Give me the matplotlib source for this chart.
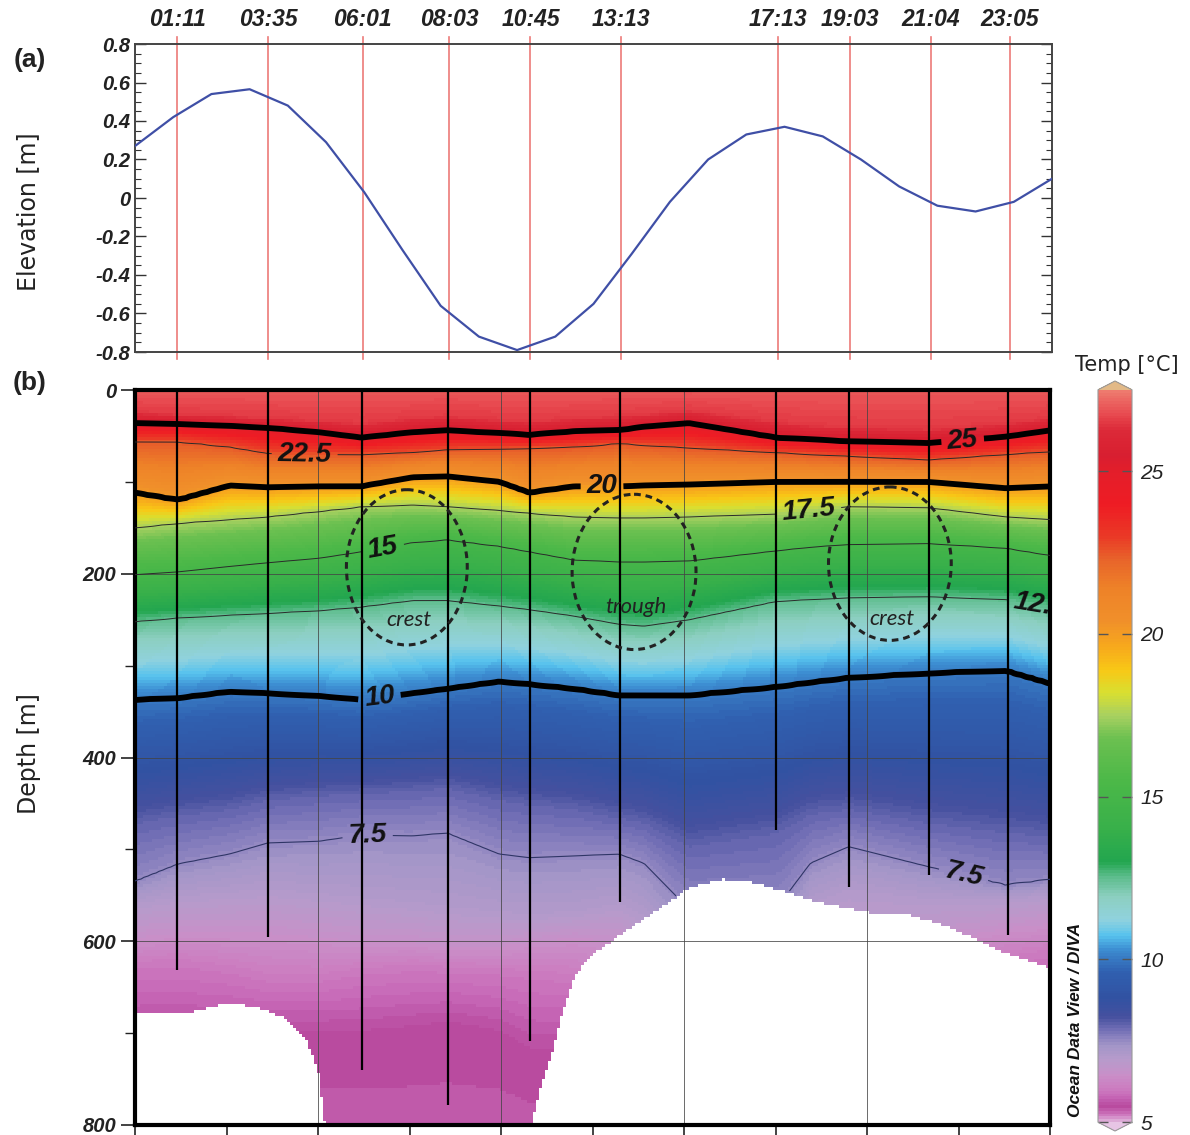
import numpy as np
import matplotlib
matplotlib.use('Agg')
import matplotlib.pyplot as plt
from matplotlib.colors import LinearSegmentedColormap, Normalize
from matplotlib.patches import Ellipse
from matplotlib.ticker import MultipleLocator, FuncFormatter

plt.rcParams['font.family'] = ['Liberation Sans', 'DejaVu Sans']

# ---- (a) sea level elevation, hourly
hours = np.arange(0, 25)
elevation = [0.27, 0.42, 0.54, 0.565, 0.48, 0.29, 0.03, -0.27, -0.56, -0.72,
             -0.79, -0.72, -0.55, -0.29, -0.02, 0.20, 0.33, 0.37, 0.32, 0.20,
             0.06, -0.04, -0.07, -0.02, 0.10]

# ---- CTD casts (time label, position on the time axis, max depth)
cast_time = ['01:11', '03:35', '06:01', '08:03', '10:45',
             '13:13', '17:13', '19:03', '21:04', '23:05']
cast_x = [1.11, 3.49, 5.96, 8.22, 10.35, 12.71, 16.82, 18.72, 20.83, 22.89]
cast_depth = [631, 595, 740, 778, 709, 557, 479, 541, 528, 593]

# ---- (b) isotherm depths [m] read at section stations
station_x = [0.0, 1.13, 2.49, 3.48, 4.84, 5.94, 7.28, 8.19, 9.55, 10.34,
             11.52, 12.70, 13.35, 14.53, 16.81, 17.72, 18.72, 20.81, 22.83, 24.0]
surface_temp = 26.95
deep_temp = 5.3          # at 900 m
z_265 = [24, 26, 28, 30, 33, 36, 30, 28, 32, 34, 30, 28, 26, 22, 34, 38, 40, 42, 36, 30]
z_250 = [36, 37, 39, 41, 46, 52, 46, 44, 47, 49, 45, 44, 40, 36, 52, 54, 56, 58, 51, 44]
z_225 = [56, 56, 62, 69, 70, 70, 68, 65, 64, 63, 62, 58, 60, 63, 68, 70, 72, 76, 70, 67]
z_200 = [112, 120, 104, 106, 105, 105, 95, 94, 100, 112, 105, 105, 104, 103, 100, 100, 100, 100, 107, 105]
z_175 = [150, 145, 141, 138, 132, 127, 125, 127, 131, 134, 138, 139, 139, 138, 135, 131, 127, 128, 138, 141]
z_150 = [201, 198, 192, 188, 183, 176, 166, 163, 170, 176, 185, 187, 187, 186, 175, 171, 168, 167, 172, 180]
z_125 = [252, 248, 245, 243, 240, 236, 229, 229, 235, 239, 246, 255, 257, 250, 230, 228, 226, 225, 228, 236]
z_100 = [337, 335, 328, 330, 333, 337, 330, 325, 317, 320, 325, 332, 332, 332, 323, 318, 313, 308, 305, 319]
z_080 = [470, 462, 455, 445, 440, 438, 435, 432, 445, 450, 455, 465, 470, 495, 480, 460, 455, 470, 480, 485]
z_075 = [535, 516, 505, 493, 491, 484, 485, 482, 505, 509, 507, 505, 515, 565, 565, 515, 497, 519, 539, 533]
z_070 = [560, 552, 548, 545, 550, 555, 560, 565, 570, 572, 570, 560, 575, 640, 640, 560, 545, 555, 555, 550]
z_065 = [595, 590, 590, 590, 595, 600, 600, 605, 605, 600, 595, 600, 620, 700, 700, 620, 620, 600, 585, 580]
z_060 = [625, 622, 630, 640, 640, 632, 628, 630, 632, 635, 640, 660, 680, 760, 760, 680, 660, 640, 620, 612]
z_055 = [700, 700, 700, 700, 700, 700, 695, 690, 700, 720, 720, 740, 760, 820, 820, 740, 720, 720, 700, 690]
iso_temp = [26.5, 25, 22.5, 20, 17.5, 15, 12.5, 10, 8, 7.5, 7, 6.5, 6, 5.5]
iso_depth = [z_265, z_250, z_225, z_200, z_175, z_150, z_125, z_100,
             z_080, z_075, z_070, z_065, z_060, z_055]

# ---- seabed
seabed_x = [0.0, 1.47, 2.38, 3.17, 3.87, 4.48, 4.79, 5.03, 10.24, 10.68, 10.94,
            11.20, 11.49, 11.81, 12.17, 12.77, 14.08, 14.53, 15.39, 16.28,
            17.15, 18.01, 19.19, 20.29, 21.07, 21.94, 22.83, 24.0]
seabed_z = [677, 677, 667, 671, 682, 707, 740, 820, 820, 751, 721, 678, 642,
            620, 609, 591, 555, 541, 532, 536, 547, 558, 568, 571, 580, 595, 613, 628]

# ---- ODV-like colour scale
cmap_T = [5.0, 5.2, 5.45, 5.75, 6.0, 6.4, 6.9, 7.3, 7.8, 8.2, 8.8, 9.6, 10.3,
          10.7, 11.2, 11.9, 12.5, 13.0, 14.0, 15.5, 16.8, 17.5, 18.2, 18.9,
          19.6, 20.4, 21.4, 22.3, 23.0, 24.0, 25.0, 25.5, 26.3, 26.8, 27.5]
cmap_c = ['#dcaad6', '#cc74bc', '#b84a9e', '#c768b8', '#cc7cc0', '#c98fc8',
          '#b69bcb', '#a496c8', '#7470b6', '#45509f', '#3152a2', '#3060b0',
          '#3d8ed2', '#56c2ee', '#90d2de', '#8ccfc0', '#5ebd8e', '#22a64f',
          '#38b04a', '#4cb848', '#6cc050', '#a8d060', '#d9df30', '#f8c816',
          '#f7a91c', '#f0902a', '#ee8228', '#e8642a', '#ea3a26', '#ee1c24',
          '#e41e2a', '#d81e30', '#dc2a38', '#e84a50', '#ee7a6e']

cmap = LinearSegmentedColormap.from_list(
    'odv', list(zip((np.array(cmap_T) - 5.0) / 22.5, cmap_c)))
cmap.set_over('#e2b987')
cmap.set_under('#e7c5e5')
norm = Normalize(5.0, 27.5)

# gridded field: isotherm depths along x, then temperature down each column
xg = np.linspace(0, 24, 306)
zg = np.linspace(0, 800, 246)
node_T = np.r_[surface_temp, iso_temp, deep_temp]
D = np.array([np.interp(xg, station_x, row) for row in iso_depth])
temp = np.empty((zg.size, xg.size))
for j in range(xg.size):
    node_z = np.r_[0.0, D[:, j], 900.0]
    temp[:, j] = np.interp(zg, node_z, node_T)
seabed = np.interp(xg, seabed_x, seabed_z)
temp = np.ma.masked_where(zg[:, None] > seabed[None, :], temp)

# ---- figure
W, H = 1190, 1135
fig = plt.figure(figsize=(W / 100, H / 100), dpi=100)


def box(l, t, r, b):
    return [l / W, 1 - b / H, (r - l) / W, (b - t) / H]


ax1 = fig.add_axes(box(135, 44, 1052, 352))
ax2 = fig.add_axes(box(135, 390, 1050, 1125))
cax = fig.add_axes(box(1098, 381, 1132, 1131))

# ---- panel (a)
ax1.plot(hours, elevation, color='#3f4fa6', lw=1.6, zorder=3)
for x in cast_x:
    ax1.axvline(x, ymin=-0.022, ymax=1.022, color='#ec7a78', lw=1.2,
                clip_on=False, zorder=2)
ax1.set_xlim(0, 24)
ax1.set_ylim(-0.8, 0.8)
ax1.xaxis.tick_top()
ax1.set_xticks(cast_x, cast_time)
ax1.tick_params(axis='x', length=0, pad=9, labelsize=16.5, labelcolor='#222')
ax1.yaxis.set_major_locator(MultipleLocator(0.2))
ax1.yaxis.set_minor_locator(MultipleLocator(0.05))
ax1.yaxis.set_major_formatter(
    FuncFormatter(lambda v, p: '0' if abs(v) < 1e-9 else f'{v:.1f}'))
ax1.tick_params(axis='y', which='both', direction='in', left=True, right=True,
                color='#333', labelcolor='#222', labelsize=14.5)
ax1.tick_params(axis='y', which='major', length=8, width=1)
ax1.tick_params(axis='y', which='minor', length=4, width=0.8)
for t in ax1.get_xticklabels() + ax1.get_yticklabels():
    t.set_fontweight('bold')
    t.set_fontstyle('italic')
for s in ax1.spines.values():
    s.set_color('#444')
    s.set_linewidth(1.4)
ax1.set_ylabel('Elevation [m]', family='DejaVu Sans', fontsize=17, color='#222')
ax1.yaxis.set_label_coords(-0.103, 0.456)

# ---- panel (b)
ax2.pcolormesh(xg, zg, temp, cmap=cmap, norm=norm, shading='nearest', zorder=1)
ax2.set_xlim(0, 24)
ax2.set_ylim(800, 0)

for x in [4.8, 9.6, 14.4, 19.2]:
    ax2.axvline(x, color='#444', lw=0.7, alpha=0.8, zorder=2)
for z in [200, 400, 600]:
    ax2.axhline(z, color='#444', lw=0.7, alpha=0.8, zorder=2)

cs_thick = ax2.contour(xg, zg, temp, levels=[10, 20, 25], colors='k',
                       linewidths=4.2, zorder=3)
cs_thin = ax2.contour(xg, zg, temp, levels=[12.5, 15, 17.5, 22.5],
                      colors='#2a2a2a', linewidths=0.7, zorder=3)
cs_75 = ax2.contour(xg, zg, temp, levels=[7.5], colors='#2f3566',
                    linewidths=0.8, zorder=3)

fmt = lambda v: f'{v:g}'
with plt.rc_context({'font.weight': 'bold', 'font.style': 'italic'}):
    labs = ax2.clabel(cs_thick, fmt=fmt, fontsize=20, inline=True, inline_spacing=6,
                      manual=[(12.25, 107), (6.41, 334), (21.7, 51)])
    labs += ax2.clabel(cs_thin, fmt=fmt, fontsize=20, inline=True, inline_spacing=6,
                       manual=[(4.45, 70), (17.67, 134), (6.49, 169), (23.74, 234)])
    labs += ax2.clabel(cs_75, fmt=fmt, fontsize=20, inline=True, inline_spacing=6,
                       manual=[(6.1, 484), (21.73, 528)])
for t in labs:
    t.set_color('#111')
    t.set_clip_on(True)
    t.set_clip_box(ax2.bbox)

ax2.vlines(cast_x, 0, cast_depth, colors='k', lw=1.6, zorder=4)

ellipses = [(7.13, 193, 3.17, 169, 'crest', 250),
            (13.09, 198, 3.25, 169, 'trough', 236),
            (19.80, 189, 3.22, 167, 'crest', 249)]
for cx, cz, w, h, name, tz in ellipses:
    ax2.add_patch(Ellipse((cx, cz), w, h, fill=False, ec='#222', lw=2.2,
                          ls=(0, (2.2, 1.6)), zorder=5))
    ax2.text(cx + 0.05, tz, name, family=['Lato', 'DejaVu Sans'], style='italic',
             fontsize=16, color='#222', ha='center', va='center', zorder=6)

ax2.yaxis.set_major_locator(MultipleLocator(200))
ax2.yaxis.set_minor_locator(MultipleLocator(100))
ax2.xaxis.set_major_locator(MultipleLocator(2.4))
ax2.tick_params(axis='x', which='both', direction='out', length=8, width=1.2,
                labelbottom=False, top=False, color='#222')
ax2.tick_params(axis='y', which='major', direction='out', length=10, width=1.2,
                right=False, labelsize=14.5, labelcolor='#222', color='#222')
ax2.tick_params(axis='y', which='minor', direction='out', length=7, width=1,
                right=False, color='#222')
for t in ax2.get_yticklabels():
    t.set_fontweight('bold')
    t.set_fontstyle('italic')
for s in ax2.spines.values():
    s.set_linewidth(3)
    s.set_color('k')
ax2.set_ylabel('Depth [m]', family='DejaVu Sans', fontsize=17, color='#222')
ax2.yaxis.set_label_coords(-0.103, 0.505)

# ---- colour bar
cb = fig.colorbar(ax2.collections[0], cax=cax, extend='both', extendfrac=0.012,
                  ticks=[5, 10, 15, 20, 25])
cb.outline.set_edgecolor('#999')
cb.outline.set_linewidth(0.8)
cb.ax.tick_params(direction='in', length=7, width=1, left=True, right=True,
                  labelleft=False, labelright=True, color='#555',
                  labelcolor='#222', labelsize=15, pad=6)
for t in cb.ax.get_yticklabels():
    t.set_fontstyle('italic')


def ftext(px, py, s, **kw):
    fig.text(px / W, 1 - py / H, s, **kw)


ftext(30, 60, '(a)', fontsize=19, fontweight='bold', ha='center', va='center', color='#222')
ftext(30, 383, '(b)', fontsize=19, fontweight='bold', ha='center', va='center', color='#222')
ftext(1127, 365, 'Temp [°C]', family='DejaVu Sans', fontsize=15, ha='center',
      va='center', color='#222')
ftext(1076, 1020, 'Ocean Data View / DIVA', fontsize=12.5, fontweight='bold',
      style='italic', rotation=90, ha='center', va='center', color='#111')

fig.savefig('out.png', dpi=100)
